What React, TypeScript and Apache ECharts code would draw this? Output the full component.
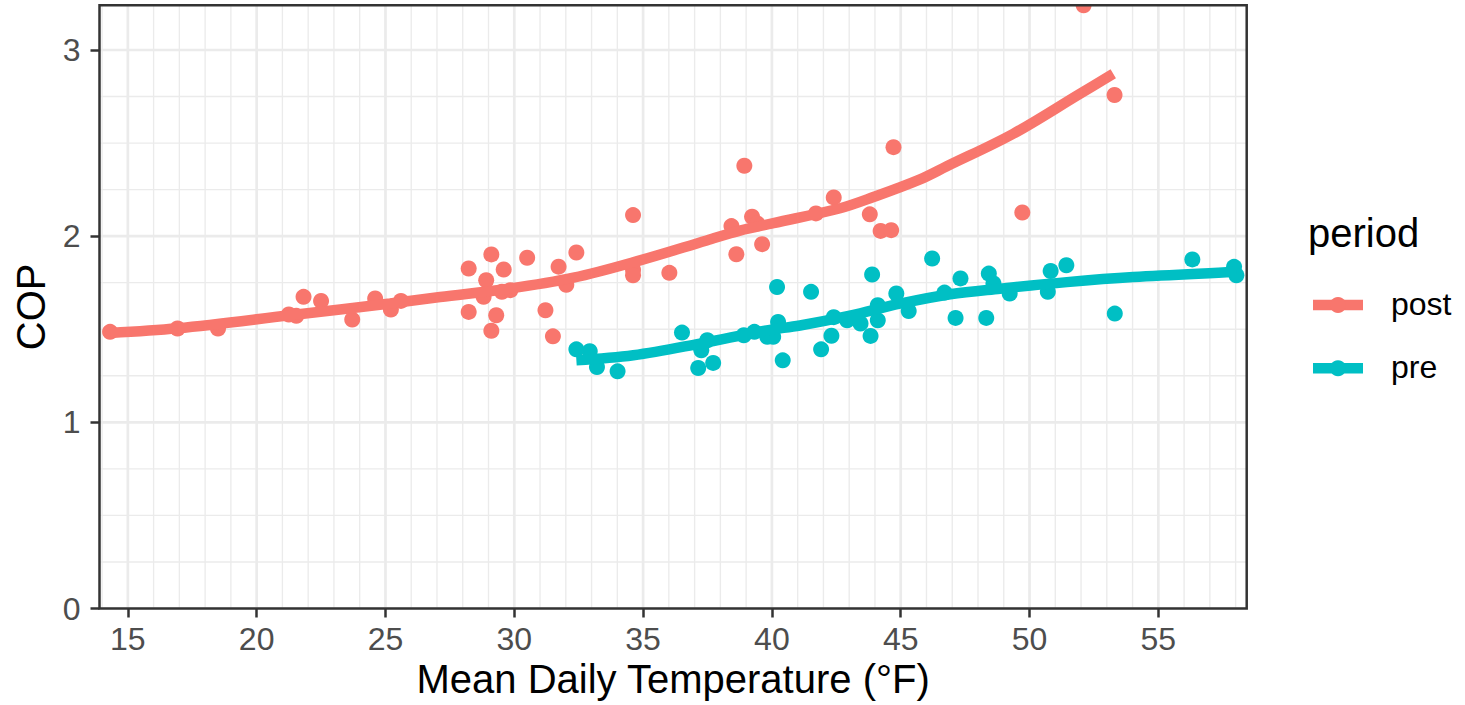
import React, { useEffect, useRef } from "react";
import * as echarts from "echarts";

// ---- data ----
const postTemp = [14.31, 16.93, 18.5, 21.25, 21.54, 21.82, 22.5, 23.71, 24.6, 25.21, 25.6, 28.23, 28.23, 29.11, 28.91, 29.59, 28.81, 29.52, 29.85, 29.3, 29.11, 30.5, 31.21, 31.5, 31.72, 32.02, 32.41, 34.61, 34.61, 34.61, 36.02, 38.43, 38.62, 38.93, 39.23, 39.43, 39.62, 41.71, 42.4, 43.8, 44.22, 44.63, 44.72, 49.72, 52.1, 53.3];
const postCOP = [1.486, 1.504, 1.504, 1.579, 1.572, 1.674, 1.652, 1.552, 1.665, 1.606, 1.652, 1.826, 1.593, 1.902, 1.763, 1.821, 1.674, 1.701, 1.71, 1.575, 1.492, 1.884, 1.602, 1.462, 1.836, 1.739, 1.912, 2.113, 1.82, 1.79, 1.803, 2.054, 1.903, 2.378, 2.104, 2.068, 1.957, 2.122, 2.208, 2.117, 2.028, 2.032, 2.478, 2.127, 3.24, 2.758];

const preTemp = [32.41, 32.93, 33.21, 34.01, 36.51, 37.49, 37.14, 37.72, 37.26, 38.91, 39.32, 39.82, 40.05, 40.24, 40.2, 40.42, 41.52, 41.91, 42.31, 42.4, 42.92, 43.44, 43.89, 43.83, 44.11, 44.11, 44.83, 45.31, 46.22, 46.7, 47.13, 47.32, 48.32, 48.42, 48.6, 49.23, 50.71, 50.82, 51.43, 53.31, 56.32, 57.94, 58.03];
const preCOP = [1.392, 1.382, 1.297, 1.274, 1.482, 1.441, 1.292, 1.319, 1.387, 1.468, 1.486, 1.459, 1.459, 1.539, 1.727, 1.333, 1.701, 1.392, 1.465, 1.565, 1.548, 1.531, 1.794, 1.464, 1.629, 1.548, 1.692, 1.598, 1.88, 1.697, 1.561, 1.773, 1.561, 1.799, 1.746, 1.692, 1.701, 1.813, 1.844, 1.584, 1.875, 1.835, 1.79];

const postSmoothTemp = [14.31, 16.92, 21.3, 25.18, 27.12, 29.71, 32.3, 34.88, 37.47, 38.76, 40.06, 42.65, 43.94, 45.75, 46.79, 49.37, 51.96, 53.25];
const postSmoothCOP = [1.48, 1.505, 1.575, 1.638, 1.673, 1.716, 1.777, 1.87, 1.977, 2.03, 2.07, 2.15, 2.21, 2.305, 2.375, 2.55, 2.765, 2.872];
const preSmoothTemp = [32.41, 34.62, 37.21, 39.8, 41.09, 43.03, 44.97, 46.92, 48.86, 51.45, 54.03, 57.91, 58.03];
const preSmoothCOP = [1.333, 1.36, 1.423, 1.494, 1.52, 1.573, 1.637, 1.688, 1.718, 1.753, 1.78, 1.807, 1.808];

const periods = ["post", "pre"];
const periodColors = ["#F8766D", "#00BFC4"];

const xTicks = [15, 20, 25, 30, 35, 40, 45, 50, 55];
const yTicks = [0, 1, 2, 3];
const xGrid = [14, 15, 16, 17, 18, 19, 20, 21, 22, 23, 24, 25, 26, 27, 28, 29, 30, 31, 32, 33, 34, 35, 36, 37, 38, 39, 40, 41, 42, 43, 44, 45, 46, 47, 48, 49, 50, 51, 52, 53, 54, 55, 56, 57, 58];
const yGrid = [0, 0.25, 0.5, 0.75, 1, 1.25, 1.5, 1.75, 2, 2.25, 2.5, 2.75, 3];

const xTitle = "Mean Daily Temperature (°F)";
const yTitle = "COP";
const legendTitle = "period";

// ---- layout ----
const FONT = "'Liberation Sans', Arial, Helvetica, sans-serif";
const PL = 99.5, PT = 5.3, PR = 1246.7, PB = 608.5;
const TICK_FS = 32;
const TITLE_FS = 40;

export default function App() {
  const ref = useRef<HTMLDivElement>(null);
  useEffect(() => {
    if (!ref.current) return;
    const chart = echarts.init(ref.current, null, { renderer: "svg" });
    const legendY = [305, 368.3];
    const legendGraphics: any[] = [
      {
        type: "text", x: 1308, y: 233, z: 100,
        style: { text: legendTitle, fontSize: TITLE_FS, fontFamily: FONT, fill: "#000", align: "left", verticalAlign: "middle" },
      },
    ];
    periods.forEach((p, i) => {
      legendGraphics.push(
        { type: "rect", z: 100, shape: { x: 1313, y: legendY[i] - 5.25, width: 50, height: 10.5 }, style: { fill: periodColors[i] } },
        { type: "circle", z: 101, shape: { cx: 1338, cy: legendY[i], r: 8 }, style: { fill: periodColors[i] } },
        { type: "text", z: 100, x: 1391, y: legendY[i] - 1.5, style: { text: p, fontSize: TICK_FS, fontFamily: FONT, fill: "#000", align: "left", verticalAlign: "middle" } }
      );
    });

    const option: any = {
      animation: false,
      backgroundColor: "#ffffff",
      grid: { left: PL, top: PT, width: PR - PL, height: PB - PT, containLabel: false },
      xAxis: {
        type: "value", min: 13.9, max: 58.43,
        axisLine: { show: false },
        splitLine: { show: false },
        axisTick: { show: true, customValues: xTicks, length: 9, lineStyle: { color: "#333333", width: 2.5 } },
        axisLabel: { customValues: xTicks, color: "#4D4D4D", fontSize: TICK_FS, fontFamily: FONT, margin: 14 },
      },
      yAxis: {
        type: "value", min: 0, max: 3.24,
        axisLine: { show: false },
        splitLine: { show: false },
        axisTick: { show: true, customValues: yTicks, length: 9, lineStyle: { color: "#333333", width: 2.5 } },
        axisLabel: { customValues: yTicks, color: "#4D4D4D", fontSize: TICK_FS, fontFamily: FONT, margin: 19 },
      },
      series: [
        {
          type: "custom", z: 0, silent: true, clip: true,
          data: xGrid.map((v) => [v, 0]),
          encode: { x: 0, y: 1 },
          renderItem: (params: any, api: any) => {
            const cs = params.coordSys;
            const v = api.value(0);
            const p = api.coord([v, 0]);
            return {
              type: "line",
              shape: { x1: p[0], y1: cs.y, x2: p[0], y2: cs.y + cs.height },
              style: { stroke: "#EBEBEB", lineWidth: v % 5 === 0 ? 2.7 : 1.35 },
            };
          },
        },
        {
          type: "custom", z: 0, silent: true, clip: true,
          data: yGrid.map((v) => [14, v]),
          encode: { x: 0, y: 1 },
          renderItem: (params: any, api: any) => {
            const cs = params.coordSys;
            const v = api.value(1);
            const p = api.coord([14, v]);
            return {
              type: "line",
              shape: { x1: cs.x, y1: p[1], x2: cs.x + cs.width, y2: p[1] },
              style: { stroke: "#EBEBEB", lineWidth: v % 1 === 0 ? 2.7 : 1.35 },
            };
          },
        },
        {
          name: "post", type: "scatter", z: 3, symbolSize: 16,
          data: postTemp.map((t, i) => [t, postCOP[i]]),
          itemStyle: { color: periodColors[0], opacity: 1 },
        },
        {
          name: "pre", type: "scatter", z: 3, symbolSize: 16,
          data: preTemp.map((t, i) => [t, preCOP[i]]),
          itemStyle: { color: periodColors[1], opacity: 1 },
        },
        {
          name: "post", type: "line", z: 4, smooth: 0.35, showSymbol: false,
          data: postSmoothTemp.map((t, i) => [t, postSmoothCOP[i]]),
          lineStyle: { color: periodColors[0], width: 10.5, cap: "butt" },
        },
        {
          name: "pre", type: "line", z: 4, smooth: 0.35, showSymbol: false,
          data: preSmoothTemp.map((t, i) => [t, preSmoothCOP[i]]),
          lineStyle: { color: periodColors[1], width: 10.5, cap: "butt" },
        },
      ],
      graphic: [
        { type: "rect", z: 99, shape: { x: 0, y: 0, width: 1465, height: PT - 1.2 }, style: { fill: "#ffffff" } },
        { type: "rect", z: 100, shape: { x: PL, y: PT, width: PR - PL, height: PB - PT }, style: { fill: "none", stroke: "#333333", lineWidth: 2.5 } },
        {
          type: "text", z: 100, x: (PL + PR) / 2, y: 679,
          style: { text: xTitle, fontSize: TITLE_FS, fontFamily: FONT, fill: "#000", align: "center", verticalAlign: "middle" },
        },
        {
          type: "text", z: 100, x: 31, y: (PT + PB) / 2, rotation: Math.PI / 2,
          style: { text: yTitle, fontSize: TITLE_FS, fontFamily: FONT, fill: "#000", align: "center", verticalAlign: "middle" },
        },
        ...legendGraphics,
      ],
    };
    chart.setOption(option);
    return () => chart.dispose();
  }, []);
  return <div ref={ref} style={{ position: "fixed", left: 0, top: 0, width: 1465, height: 705 }} />;
}
